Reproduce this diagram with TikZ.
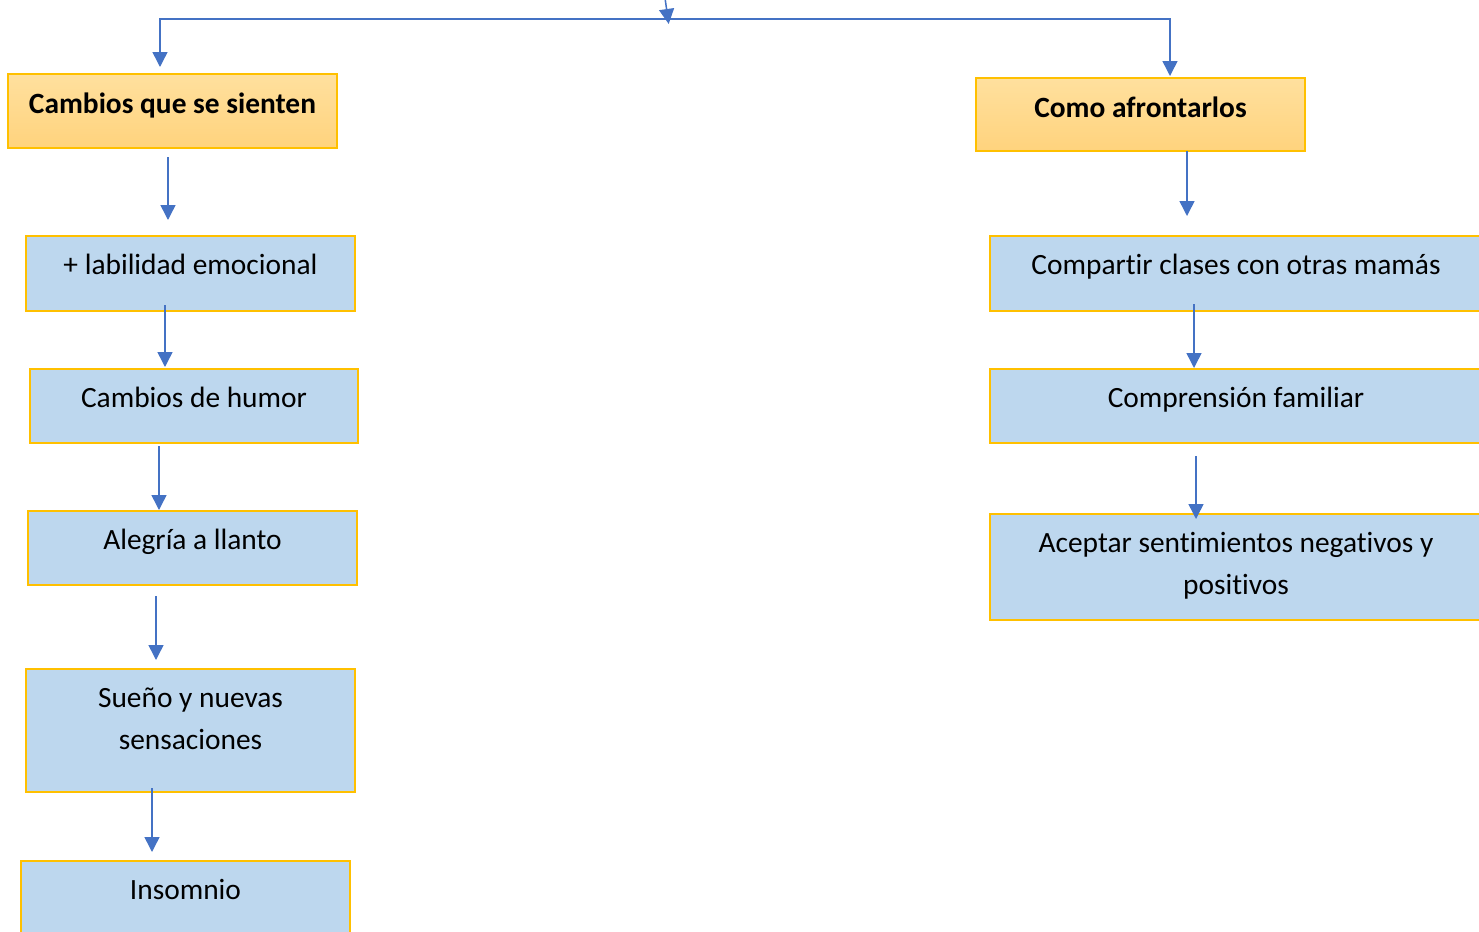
\documentclass[tikz,border=0pt]{standalone}
\usepackage{fontspec}
\setmainfont{Carlito}[Ligatures=NoCommon]
\usetikzlibrary{arrows.meta}
\definecolor{azulflecha}{HTML}{4472C4}
\definecolor{azulcaja}{HTML}{BDD7EE}
\definecolor{dorado}{HTML}{FFC000}
\definecolor{naranjaalto}{HTML}{FFE09E}
\definecolor{naranjabajo}{HTML}{FFD37D}

\begin{document}
\begin{tikzpicture}[x=0.5pt,y=-0.5pt,
        caja/.style={draw=dorado, line width=0.7pt, fill=azulcaja, anchor=north west,
            inner sep=0pt, outer sep=0pt, align=center, text height=19pt,
            font=\fontsize{14.7}{21}\selectfont},
        titulo/.style={caja, top color=naranjaalto, bottom color=naranjabajo, text height=19.5pt,
            font=\fontsize{14.7}{21}\selectfont\bfseries},
        flecha/.style={-{Triangle[length=7.5pt,width=7.5pt]}, draw=azulflecha, line width=0.75pt}]
            \path[use as bounding box, clip] (0,0) rectangle (1479,932);
            % encabezados
            \node[titulo, minimum width=164.5pt, text depth=17.5pt] (cambios) at (8,74) {Cambios que se sienten};
            \node[titulo, minimum width=164.5pt, text depth=17pt] (afront) at (976,78) {Como afrontarlos};
            % columna izquierda
            \node[caja, minimum width=164.5pt, text depth=18.5pt] (labil) at (26,236) {+ labilidad emocional};
            \node[caja, minimum width=164pt, text depth=18pt] (humor) at (30,369) {Cambios de humor};
            \node[caja, minimum width=164.5pt, text depth=18pt] (alegria) at (28,511) {Alegría a llanto};
            \node[caja, minimum width=164.5pt, text height=40pt, text depth=21.5pt] (sueno) at (26,669) {Sueño y nuevas\\sensaciones};
            \node[caja, minimum width=164.5pt, text depth=20pt] (insomnio) at (21,861) {Insomnio};
            % columna derecha
            \node[caja, minimum width=246pt, text depth=18.5pt] (compartir) at (990,236) {Compartir clases con otras mamás};
            \node[caja, minimum width=246pt, text depth=18pt] (comprension) at (990,369) {Comprensión familiar};
            \node[caja, minimum width=246pt, text height=40pt, text depth=13pt] (aceptar) at (990,514) {Aceptar sentimientos negativos y\\positivos};
            % ramas de arriba
            \coordinate (arriba) at (665,-2);
            \coordinate (centro) at (668,19);
            \draw[flecha, shorten >=-2.5pt] (arriba) -- (centro);
            \draw[flecha, shorten >=3.5pt] (centro) -| (cambios.north -| 160,0);
            \draw[flecha, shorten >=1pt] (centro) -| (afront.north -| 1170,0);
            % flechas izquierda
            \draw[flecha, shorten <=4.5pt, shorten >=8pt] (cambios.south -| 168,0) -- (labil.north -| 168,0);
            \draw[flecha, shorten <=-3pt, shorten >=1pt] (labil.south -| 165,0) -- (humor.north -| 165,0);
            \draw[flecha, shorten <=1.5pt, shorten >=0.5pt] (humor.south -| 159,0) -- (alegria.north -| 159,0);
            \draw[flecha, shorten <=5.5pt, shorten >=4.5pt] (alegria.south -| 156,0) -- (sueno.north -| 156,0);
            \draw[flecha, shorten <=-2pt, shorten >=4.5pt] (sueno.south -| 152,0) -- (insomnio.north -| 152,0);
            % flechas derecha
            \draw[flecha, shorten >=10pt] (afront.south -| 1187,0) -- (compartir.north -| 1187,0);
            \draw[flecha, shorten <=-3.5pt, shorten >=0.5pt] (compartir.south -| 1194,0) -- (comprension.north -| 1194,0);
            \draw[flecha, shorten <=6.5pt, shorten >=-2.5pt] (comprension.south -| 1196,0) -- (aceptar.north -| 1196,0);
        \end{tikzpicture}
\end{document}
